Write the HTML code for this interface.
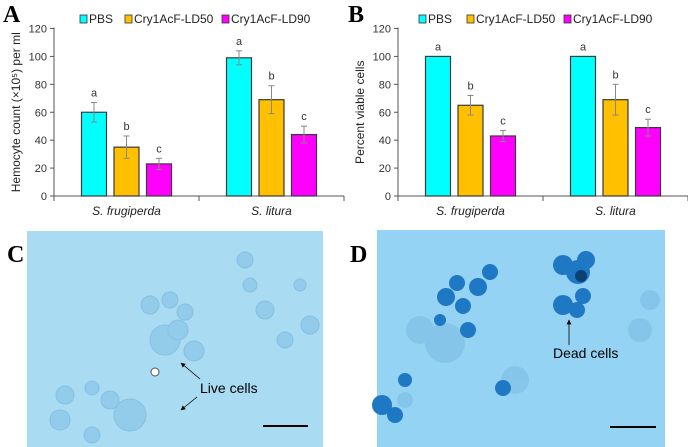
<!DOCTYPE html>
<html><head><meta charset="utf-8"><style>
body{margin:0;background:#fff;}
svg{display:block;font-family:"Liberation Sans",sans-serif;}
</style></head><body>
<svg id="fig" width="688" height="447" viewBox="0 0 688 447">
<defs><marker id="ah" viewBox="0 0 10 10" refX="9" refY="5" markerWidth="6" markerHeight="6" orient="auto"><path d="M0,0 L10,5 L0,10 z" fill="#000"/></marker></defs>
<text x="3" y="22" font-family="Liberation Serif" font-weight="bold" font-size="24">A</text>
<text x="348" y="22" font-family="Liberation Serif" font-weight="bold" font-size="24">B</text>
<g id="chartA"></g>
<g id="chartB"></g>

<text x="7" y="262" font-family="Liberation Serif" font-weight="bold" font-size="24">C</text>
<g>
<rect x="27" y="231" width="296" height="216" fill="#a9dbf3"/>
<g fill="#8ec8ea" stroke="#7fb9de" stroke-width="1" opacity="0.8">
<circle cx="165" cy="340" r="15"/><circle cx="178" cy="330" r="10"/><circle cx="194" cy="351" r="10"/>
<circle cx="150" cy="305" r="9"/><circle cx="170" cy="300" r="8"/><circle cx="185" cy="312" r="8"/>
<circle cx="65" cy="395" r="9"/><circle cx="92" cy="388" r="7"/><circle cx="130" cy="415" r="16"/>
<circle cx="110" cy="400" r="9"/><circle cx="250" cy="285" r="7"/><circle cx="265" cy="310" r="9"/>
<circle cx="285" cy="340" r="8"/><circle cx="310" cy="325" r="9"/><circle cx="245" cy="260" r="8"/>
<circle cx="60" cy="420" r="10"/><circle cx="92" cy="435" r="8"/><circle cx="300" cy="285" r="6"/>
</g>
<circle cx="155" cy="372" r="4" fill="#fff" stroke="#555"/>
<line x1="200" y1="379" x2="181" y2="363" stroke="#000" stroke-width="0.8" marker-end="url(#ah)"/>
<line x1="197" y1="397" x2="181" y2="410" stroke="#000" stroke-width="0.8" marker-end="url(#ah)"/>
<text x="200" y="393" font-size="14">Live cells</text>
<rect x="263" y="425" width="45" height="2" fill="#000"/>
</g>

<text x="350" y="262" font-family="Liberation Serif" font-weight="bold" font-size="24">D</text>
<g>
<rect x="377" y="230" width="288" height="217" fill="#94d3f3"/>
<g fill="#7fc0e6" opacity="0.7">
<circle cx="445" cy="343" r="20"/><circle cx="420" cy="330" r="14"/><circle cx="405" cy="400" r="8"/>
<circle cx="515" cy="380" r="14"/><circle cx="640" cy="330" r="12"/><circle cx="650" cy="300" r="10"/>
</g>
<g fill="#1f78c4">
<circle cx="446" cy="297" r="9"/><circle cx="457" cy="283" r="8"/><circle cx="463" cy="306" r="8"/>
<circle cx="478" cy="287" r="9"/><circle cx="490" cy="272" r="8"/><circle cx="468" cy="330" r="8"/>
<circle cx="440" cy="320" r="6"/><circle cx="563" cy="265" r="10"/><circle cx="578" cy="272" r="12"/>
<circle cx="586" cy="260" r="9"/><circle cx="563" cy="305" r="10"/><circle cx="577" cy="310" r="8"/>
<circle cx="583" cy="296" r="8"/><circle cx="503" cy="388" r="8"/><circle cx="382" cy="405" r="10"/>
<circle cx="395" cy="415" r="8"/><circle cx="405" cy="380" r="7"/>
</g>
<circle cx="581" cy="276" r="6" fill="#0e3f73"/>
<line x1="569" y1="345" x2="569" y2="320" stroke="#000" stroke-width="0.8" marker-end="url(#ah)"/>
<text x="553" y="358" font-size="14">Dead cells</text>
<rect x="610" y="426" width="46" height="2" fill="#000"/>
</g>
</svg>
<script>
const categories = ["S. frugiperda", "S. litura"];
const seriesNames = ["PBS", "Cry1AcF-LD50", "Cry1AcF-LD90"];
const countPBS = [60, 99];
const countLD50 = [35, 69];
const countLD90 = [23, 44];
const countErrPBS = [7, 5];
const countErrLD50 = [8, 10];
const countErrLD90 = [4, 6];
const viablePBS = [100, 100];
const viableLD50 = [65, 69];
const viableLD90 = [43, 49];
const viableErrPBS = [0, 0];
const viableErrLD50 = [7, 11];
const viableErrLD90 = [4, 6];
const letters = [["a","a"],["b","b"],["c","c"]];
const yTicks = [0, 20, 40, 60, 80, 100, 120];

const NS = "http://www.w3.org/2000/svg";
const colors = ["#00ffff", "#ffc000", "#ff00ff"];
function mk(tag, attrs, parent, txt) {
  const e = document.createElementNS(NS, tag);
  for (const k in attrs) e.setAttribute(k, attrs[k]);
  if (txt !== undefined) e.textContent = txt;
  parent.appendChild(e);
  return e;
}
function drawChart(g, ox, yTitle, vals, errs, legendX, prefix) {
  const x0 = ox + 54, x1 = ox + 344, y0 = 196, yTop = 28.5;
  const yS = v => y0 - v * (y0 - yTop) / 120;
  const groupW = (x1 - x0) / categories.length;
  const barW = 25, step = 32.5;
  const ax = mk("line", {x1: x0, y1: yTop - 1, x2: x0, y2: y0, stroke: "#555", "stroke-width": 1}, g);
  
  
  const bx = mk("line", {x1: x0, y1: y0, x2: x1, y2: y0, stroke: "#555", "stroke-width": 1}, g);
  
  
  yTicks.forEach(t => {
    const y = yS(t);
    mk("line", {x1: x0 - 4, y1: y, x2: x0, y2: y, stroke: "#555"}, g);
    const tl = mk("text", {x: x0 - 7, y: y + 4, "text-anchor": "end", "font-size": 11, fill: "#333"}, g, t);
    
    
  });
  for (let i = 0; i <= categories.length; i++) {
    const x = x0 + i * groupW;
    mk("line", {x1: x, y1: y0, x2: x, y2: y0 + 5, stroke: "#555"}, g);
  }
  const yt = mk("text", {x: 0, y: 0, transform: `translate(${ox + 20},${(y0 + yTop) / 2}) rotate(-90)`, "text-anchor": "middle", "font-size": 12, fill: "#222"}, g, yTitle);
  
  
  categories.forEach((c, ci) => {
    const cx = x0 + groupW * (ci + 0.5);
    const cl = mk("text", {x: cx, y: 215, "text-anchor": "middle", "font-size": 12, "font-style": "italic", fill: "#222"}, g, c);
    
    
    vals.forEach((sv, si) => {
      const v = sv[ci], er = errs[si][ci];
      const bxp = cx + (si - 1) * step - barW / 2;
      const r = mk("rect", {x: bxp, y: yS(v), width: barW, height: y0 - yS(v), fill: colors[si], stroke: "#3a3a3a", "stroke-width": 1.2}, g);
      
      
      const mx = bxp + barW / 2;
      if (er > 0) {
        mk("line", {x1: mx, y1: yS(v + er), x2: mx, y2: yS(v - er), stroke: "#888"}, g);
        mk("line", {x1: mx - 3, y1: yS(v + er), x2: mx + 3, y2: yS(v + er), stroke: "#888"}, g);
        mk("line", {x1: mx - 3, y1: yS(v - er), x2: mx + 3, y2: yS(v - er), stroke: "#888"}, g);
      }
      const lt = mk("text", {x: mx, y: yS(v + er) - 6, "text-anchor": "middle", "font-size": 11, fill: "#333"}, g, letters[si][ci]);
      
      
    });
  });
  seriesNames.forEach((n, si) => {
    const lx = legendX[si];
    const sw = mk("rect", {x: lx, y: 15, width: 7, height: 8, fill: colors[si], stroke: "#333", "stroke-width": 0.8}, g);
    
    
    const le = mk("text", {x: lx + 9, y: 23, "font-size": 12, fill: "#222"}, g, n);
    
    
  });
}
drawChart(document.getElementById("chartA"), 0, "Hemocyte count (\u00d710\u2075) per ml",
  [countPBS, countLD50, countLD90], [countErrPBS, countErrLD50, countErrLD90], [80, 125, 222], "count");
drawChart(document.getElementById("chartB"), 344, "Percent viable cells",
  [viablePBS, viableLD50, viableLD90], [viableErrPBS, viableErrLD50, viableErrLD90], [419, 467, 564], "viable");
</script>
</body></html>
